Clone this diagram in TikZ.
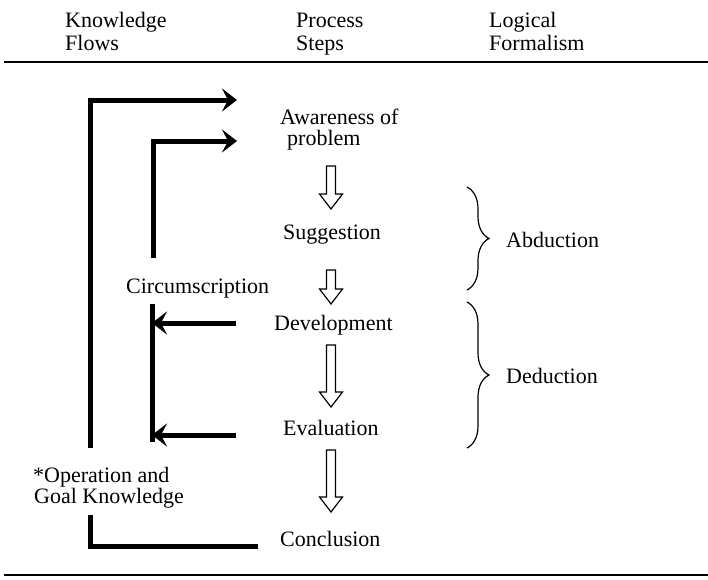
\documentclass[tikz,border=0pt]{standalone}
\usepackage{fontspec}
\setmainfont{Liberation Serif}
\usetikzlibrary{arrows.meta,decorations.pathreplacing,calc}
\newcommand\hollowarr[2]{%
  \draw[hollow] ($(#1)+(-4.5,0)$) -- ($(#1)+(4.5,0)$) -- ($(#2)+(4.5,-15)$)
    -- ($(#2)+(11.5,-15)$) -- (#2) -- ($(#2)+(-11.5,-15)$) -- ($(#2)+(-4.5,-15)$) -- cycle;}
\begin{document}
\begin{tikzpicture}[x=1pt,y=-1pt,
  lbl/.style={anchor=base west, inner sep=0pt, font=\fontsize{22}{25}\selectfont},
  flow/.style={line width=5pt, -{Stealth[length=15pt,width=23pt,inset=6pt]}},
  flowline/.style={line width=5pt},
  hollow/.style={line width=1.2pt, fill=white, line join=miter},
  rulel/.style={line width=1.8pt},
  brc/.style={decorate, decoration={brace, amplitude=22pt}, line width=1.2pt}]
\useasboundingbox (0,0) rectangle (708,579);
% headers
\node[lbl] (kf1) at (65,27) {Knowledge};
\node[lbl] (kf2) at (65,50) {Flows};
\node[lbl] (ps1) at (296,27) {Process};
\node[lbl] (ps2) at (296,50) {Steps};
\node[lbl] (lf1) at (489,27) {Logical};
\node[lbl] (lf2) at (489,50) {Formalism};
\coordinate (r1a) at (4,62); \coordinate (r1b) at (708,62);
\coordinate (r2a) at (4,575); \coordinate (r2b) at (708,575);
\draw[rulel] (r1a) -- (r1b);
\draw[rulel] (r2a) -- (r2b);
% process steps
\node[lbl] (aw1) at (280,124) {Awareness of};
\node[lbl] (aw2) at (287,145) {problem};
\node[lbl] (sug) at (283,239) {Suggestion};
\node[lbl] (dev) at (274,330) {Development};
\node[lbl] (eva) at (283,435) {Evaluation};
\node[lbl] (con) at (280,546) {Conclusion};
% knowledge flow labels
\node[lbl] (cir) at (126,293) {Circumscription};
\node[lbl] (op1) at (33,482) {*Operation and};
\node[lbl] (op2) at (34,503) {Goal Knowledge};
% logical formalism
\node[lbl] (abd) at (506,247) {Abduction};
\node[lbl] (ded) at (506,383) {Deduction};
\draw[brc] (467,187) -- (467,290);
\draw[brc] (467,302) -- (467,448);
% hollow arrows
\coordinate (h1a) at (331,166); \coordinate (h1b) at (331,209);
\coordinate (h2a) at (331,270); \coordinate (h2b) at (331,304);
\coordinate (h3a) at (331,345); \coordinate (h3b) at (331,407);
\coordinate (h4a) at (331,450); \coordinate (h4b) at (331,512);
\hollowarr{h1a}{h1b}
\hollowarr{h2a}{h2b}
\hollowarr{h3a}{h3b}
\hollowarr{h4a}{h4b}
% knowledge flows
\coordinate (ob) at (90,448); \coordinate (awin1) at (237,100);
\coordinate (ib) at (153,258); \coordinate (awin2) at (237,141);
\draw[flow] (ob) |- (awin1);
\draw[flow] (ib) |- (awin2);
\coordinate (ot) at (90,515); \coordinate (conout) at (258,546);
\draw[flowline] (conout) -| (ot);
\coordinate (ct) at (152,304); \coordinate (cb) at (152,442);
\draw[flowline] (ct) -- (cb);
\coordinate (devout) at (236,323); \coordinate (devin) at (152,323);
\coordinate (evaout) at (236,435); \coordinate (evain) at (152,435);
\draw[flow] (devout) -- (devin);
\draw[flow] (evaout) -- (evain);
\end{tikzpicture}
\end{document}
